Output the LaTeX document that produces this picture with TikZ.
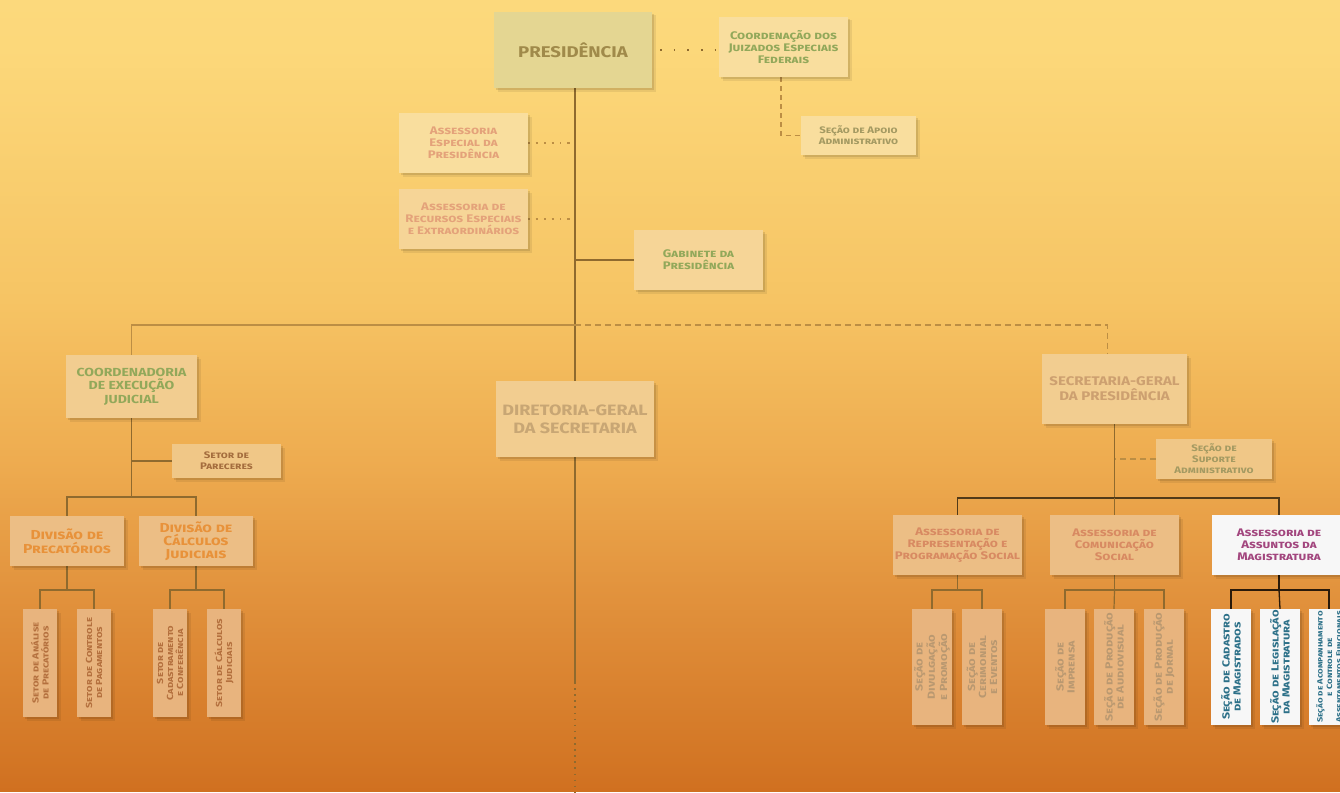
\documentclass[tikz,border=0pt]{standalone}
\usepackage{fontspec}
\setmainfont{Fira Sans}[FakeStretch=1.2]

\definecolor{linebrown}{HTML}{8F6A2E}
\definecolor{linelight}{HTML}{BC8E44}
\definecolor{lineblack}{HTML}{2A1A0A}
\definecolor{cgreen}{HTML}{92A85A}
\definecolor{colive}{HTML}{A49A62}
\definecolor{csalmon}{HTML}{E4A27A}
\definecolor{csalmond}{HTML}{D88A62}
\definecolor{cpres}{HTML}{A08A4A}
\definecolor{ctan}{HTML}{C8A674}
\definecolor{csg}{HTML}{CDA070}
\definecolor{cbrown}{HTML}{A56E3E}
\definecolor{corange}{HTML}{E8923A}
\definecolor{csetor}{HTML}{B4703E}
\definecolor{csecao}{HTML}{B99870}
\definecolor{cpurple}{HTML}{A2467E}
\definecolor{cteal}{HTML}{2C7088}
% box fills
\definecolor{fpres}{RGB}{228,214,146}
\definecolor{ftop}{RGB}{249,222,158}
\definecolor{fmid}{RGB}{246,213,151}
\definecolor{fsec}{RGB}{242,205,144}
\definecolor{fthird}{RGB}{240,199,135}
\definecolor{fdiv}{RGB}{236,190,133}
\definecolor{flow}{RGB}{232,180,126}
\definecolor{fwhite}{RGB}{247,247,247}
% background stops
\definecolor{bga}{RGB}{208,112,32}
\definecolor{bgb}{RGB}{211,118,37}
\definecolor{bgc}{RGB}{225,145,60}
\definecolor{bgd}{RGB}{238,172,80}
\definecolor{bge}{RGB}{246,196,100}
\definecolor{bgf}{RGB}{252,216,122}
\definecolor{bgg}{RGB}{252,217,124}

\pgfdeclarelayer{bg}
\pgfdeclarelayer{lines}
\pgfsetlayers{bg,lines,main}

\newcommand\orgsc[2]{\fontsize{#1}{#2}\selectfont\bfseries\scshape}
\newcommand\orgcaps[2]{\fontsize{#1}{#2}\selectfont\bfseries}

\tikzset{
  box/.style={rectangle, align=center, inner sep=1pt,
    preaction={fill=black, opacity=0.07, transform canvas={xshift=3.5pt, yshift=-3.5pt}},
    preaction={fill=black, opacity=0.1, transform canvas={xshift=2pt, yshift=-2pt}}},
  wide/.style={box, minimum width=129pt, minimum height=60pt, font=\orgsc{11}{12}},
  small/.style={box, minimum width=115pt, minimum height=39pt, font=\orgsc{9.5}{11}},
  tall/.style={box, rotate=90, minimum width=108pt, minimum height=34pt, font=\orgsc{8.8}{10}},
  tallb/.style={box, rotate=90, minimum width=116pt, minimum height=40pt, font=\orgsc{10.3}{11}},
  link/.style={linebrown, line width=1.2pt},
  dashlink/.style={linelight, line width=1.4pt, dash pattern=on 6pt off 4pt},
}

\begin{document}
\begin{tikzpicture}[x=1pt,y=-1pt]
\useasboundingbox (0,0) rectangle (1340,792);
\begin{pgfonlayer}{bg}
  \foreach \ya/\yb/\ca/\cb in {0/50/bgg/bgf, 50/300/bgf/bge, 300/460/bge/bgd, 460/600/bgd/bgc, 600/760/bgc/bgb, 760/792/bgb/bga}{
    \pgfmathtruncatemacro\n{(\yb-\ya)/2-1}
    \foreach \k in {0,...,\n}{
      \pgfmathsetmacro\p{(2*\k+1)/(\yb-\ya)*100}
      \fill[\cb!\p!\ca] (0,\ya+2*\k) rectangle (1340,\ya+2*\k+2.4);
    }
  }
\end{pgfonlayer}

% top level
\node[box, minimum width=158pt, minimum height=76pt, fill=fpres, text=cpres, font=\orgcaps{15.5}{18}] (pres) at (573,50) {PRESIDÊNCIA};
\node[wide, fill=ftop, text=cgreen] (jef) at (783.5,47) {Coordenação dos\\Juizados Especiais\\Federais};
\node[small, fill=ftop, text=colive] (apoio) at (858.5,135.5) {Seção de Apoio\\Administrativo};
\node[wide, fill=ftop, text=csalmon] (aesp) at (463.5,143) {Assessoria\\Especial da\\Presidência};
\node[wide, fill=fmid, text=csalmon] (arec) at (463.5,219) {Assessoria de\\Recursos Especiais\\e Extraordinários};
\node[wide, fill=fmid, text=cgreen] (gab) at (698.5,260) {Gabinete da\\Presidência};

% second level
\node[box, minimum width=131pt, minimum height=63pt, fill=fsec, text=cgreen, font=\orgcaps{11.7}{13.5}] (cej) at (131.5,386.5) {COORDENADORIA\\DE EXECUÇÃO\\JUDICIAL};
\node[box, minimum width=158pt, minimum height=76pt, fill=fsec, text=ctan, font=\orgcaps{15}{18}] (dg) at (575,419) {DIRETORIA-GERAL\\DA SECRETARIA};
\node[box, minimum width=145pt, minimum height=70pt, fill=fsec, text=csg, font=\orgcaps{12.5}{15}] (sg) at (1114.5,389) {SECRETARIA-GERAL\\DA PRESIDÊNCIA};
\node[small, minimum width=109pt, minimum height=34pt, fill=fthird, text=cbrown] (par) at (226.5,461) {Setor de\\Pareceres};
\node[small, minimum width=116pt, minimum height=40pt, fill=fthird, text=colive] (sup) at (1214,459) {Seção de\\Suporte\\Administrativo};

% divisions and assessorias
\node[box, minimum width=114pt, minimum height=50pt, fill=fdiv, text=corange, font=\orgsc{13}{14}] (dprec) at (67,541) {Divisão de\\Precatórios};
\node[box, minimum width=114pt, minimum height=50pt, fill=fdiv, text=corange, font=\orgsc{13}{13}] (dcalc) at (196,541) {Divisão de\\Cálculos\\Judiciais};
\node[wide, fill=fdiv, text=csalmond] (arep) at (957.5,545) {Assessoria de\\Representação e\\Programação Social};
\node[wide, fill=fdiv, text=csalmond] (acom) at (1114.5,545) {Assessoria de\\Comunicação\\Social};
\node[wide, minimum width=134pt, fill=fwhite, text=cpurple] (amag) at (1279,545) {Assessoria de\\Assuntos da\\Magistratura};

% bottom setores
\node[tall, fill=flow, text=csetor] (s1) at (40,663) {Setor de Análise\\de Precatórios};
\node[tall, fill=flow, text=csetor] (s2) at (94,663) {Setor de Controle\\de Pagamentos};
\node[tall, fill=flow, text=csetor] (s3) at (170,663) {Setor de\\Cadastramento\\e Conferência};
\node[tall, fill=flow, text=csetor] (s4) at (224,663) {Setor de Cálculos\\Judiciais};

% bottom secoes
\node[tallb, fill=flow, text=csecao] (r1) at (932,667) {Seção de\\Divulgação\\e Promoção};
\node[tallb, fill=flow, text=csecao] (r2) at (982,667) {Seção de\\Cerimonial\\e Eventos};
\node[tallb, fill=flow, text=csecao] (r3) at (1065,667) {Seção de\\Imprensa};
\node[tallb, fill=flow, text=csecao] (r4) at (1114,667) {Seção de Produção\\de Audiovisual};
\node[tallb, fill=flow, text=csecao] (r5) at (1164,667) {Seção de Produção\\de Jornal};
\node[tallb, fill=fwhite, text=cteal] (m1) at (1231,667) {Seção de Cadastro\\de Magistrados};
\node[tallb, fill=fwhite, text=cteal] (m2) at (1280,667) {Seção de Legislação\\da Magistratura};
\node[tallb, fill=fwhite, text=cteal, font=\orgsc{7.6}{9.5}] (m3) at (1329,667) {Seção de Acompanhamento\\e Controle de\\Assentamentos Funcionais};

\coordinate (mainend) at (575,682);
\coordinate (mainbot) at (575,792);
\coordinate (hl) at (575,325);
\coordinate (cejb) at (131.5,497);
\coordinate (sgb) at (1114.5,498);
\coordinate (dpb) at (67,590);
\coordinate (dcb) at (196,590);
\coordinate (arb) at (957.5,590);
\coordinate (acb) at (1114.5,590);
\coordinate (amb) at (1279,590);

\begin{pgfonlayer}{lines}
  % presidencia
  \draw[link] (pres.south -| hl) -- (mainend);
  \draw[linebrown, line width=1.6pt, dash pattern=on 1.6pt off 4.5pt] (mainend) -- (mainbot);
  \draw[linebrown, line width=1.6pt, dash pattern=on 1.6pt off 12pt] (pres.east) ++(8,0) -- (pres.east -| jef.west);
  \draw[dashlink, dash pattern=on 5pt off 4pt] (jef.south -| 781,0) |- (apoio.west);
  \draw[linelight, line width=1.3pt, dash pattern=on 1.4pt off 6pt on 2.5pt off 6pt] (aesp.east) -- (aesp.east -| hl);
  \draw[linelight, line width=1.3pt, dash pattern=on 1.4pt off 6pt on 2.5pt off 6pt] (arec.east) -- (arec.east -| hl);
  \draw[link] (gab.west) -- (gab.west -| hl);
  % second level
  \draw[linelight, line width=1.4pt] (hl) -| (cej.north);
  \draw[dashlink] (hl) -| ([xshift=-7pt]sg.north);
  % coordenadoria
  \draw[link] (cej.south) -- (cejb);
  \draw[link] (par.west) -- (par.west -| cejb);
  \draw[link] (dprec.north) |- (cejb) -| (dcalc.north);
  \draw[link] (dprec.south) -- (dpb);
  \draw[link] (s1.east) |- (dpb) -| (s2.east);
  \draw[link] (dcalc.south) -- (dcb);
  \draw[link] (s3.east) |- (dcb) -| (s4.east);
  % secretaria-geral
  \draw[link] (sg.south) -- (sgb);
  \draw[dashlink] (sup.west) -- (sup.west -| sgb);
  \draw[link, lineblack!60!linebrown] (arep.north) |- (sgb) -| (amag.north);
  \draw[link] (sgb) -- (acom.north);
  \draw[link] (arep.south) -- (arb);
  \draw[link] (r1.east) |- (arb) -| (r2.east);
  \draw[link] (acom.south) -- (acb);
  \draw[link] (r3.east) |- (acb) -| (r5.east);
  \draw[link] (acb) -- (r4.east);
  \draw[lineblack, line width=1.3pt] (amag.south) -- (amb);
  \draw[lineblack, line width=1.3pt] (m1.east) |- (amb) -| (m3.east);
  \draw[lineblack, line width=1.3pt] (amb) -- (m2.east);
\end{pgfonlayer}
\end{tikzpicture}
\end{document}
